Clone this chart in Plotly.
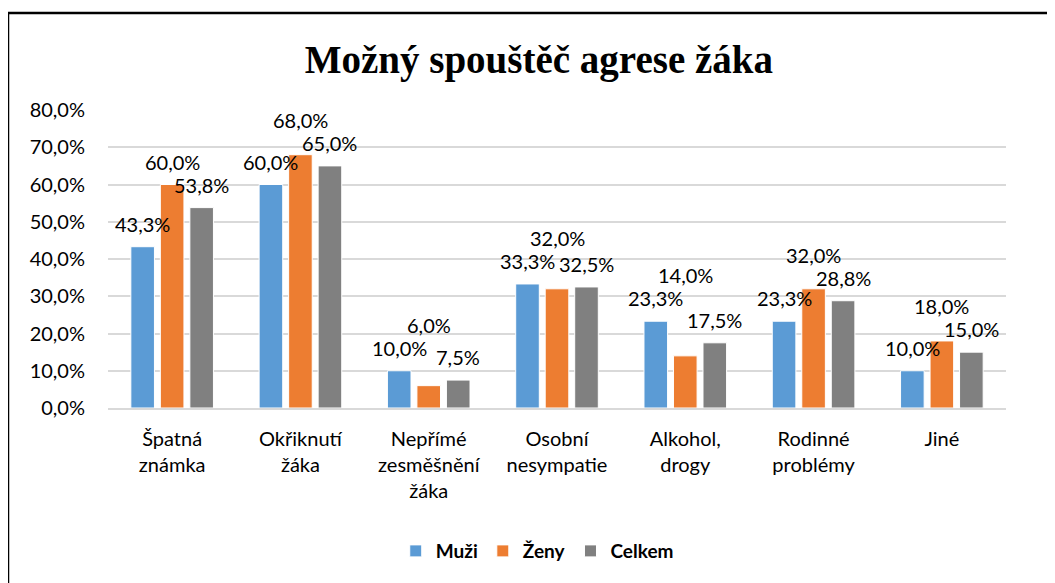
import plotly.graph_objects as go

categories = ["Špatná<br>známka", "Okřiknutí<br>žáka", "Nepřímé<br>zesměšnění<br>žáka",
              "Osobní<br>nesympatie", "Alkohol,<br>drogy", "Rodinné<br>problémy", "Jiné"]
muzi = [43.3, 60.0, 10.0, 33.3, 23.3, 23.3, 10.0]
zeny = [60.0, 68.0, 6.0, 32.0, 14.0, 32.0, 18.0]
celkem = [53.8, 65.0, 7.5, 32.5, 17.5, 28.8, 15.0]
series_names = ["Muži", "Ženy", "Celkem"]
colors = ["#5B9BD5", "#ED7D31", "#808080"]
tick_vals = [0, 10, 20, 30, 40, 50, 60, 70, 80]


def pct(v):
    return f"{v:.1f}".replace(".", ",") + "%"


# page has an 8px body margin; figure sized to fit the window
W, H = 1047, 575
ML, MR, MT, MB = 100, 49, 102, 175
FONT = "Lato"
bargap = 0.31
bargroupgap = 0.2
Y_MAX = 80

fig = go.Figure()
all_series = [muzi, zeny, celkem]
for name, vals, col in zip(series_names, all_series, colors):
    fig.add_trace(go.Bar(
        x=categories, y=vals, name=f"<b>{name}</b>",
        marker=dict(color=col, line=dict(color="white", width=1)),
    ))

# data labels: outer series sit just above their bars, the middle one is
# lifted further when it would collide with a neighbouring label
plot_w = W - ML - MR
plot_h = H - MT - MB
px_per_unit = plot_h / Y_MAX
cat_w = plot_w / len(categories)
slot = cat_w * (1 - bargap) / 3
LIFT, LABEL_H, GAP = 9, 21, 2
for ci, c in enumerate(categories):
    vals = [s[ci] for s in all_series]
    base = min(vals) * px_per_unit
    placed = {}
    for i in (0, 2, 1):
        bottom = vals[i] * px_per_unit - base + LIFT
        moved = True
        while moved:
            moved = False
            for j, pb in placed.items():
                if abs(i - j) == 1 and bottom < pb + LABEL_H and bottom + LABEL_H > pb:
                    bottom = pb + LABEL_H + GAP
                    moved = True
        placed[i] = bottom
    for i, v in enumerate(vals):
        fig.add_annotation(
            x=c, y=v, xref="x", yref="y", xshift=(i - 1) * slot,
            yshift=placed[i] - (v * px_per_unit - base),
            text=pct(v), showarrow=False, yanchor="bottom",
            font=dict(family=FONT, size=20, color="#000000"),
        )

fig.update_layout(
    width=W, height=H,
    margin=dict(l=ML, r=MR, t=MT, b=MB),
    paper_bgcolor="white", plot_bgcolor="white",
    barmode="group", bargap=bargap, bargroupgap=bargroupgap,
    title=dict(text="<b>Možný spouštěč agrese žáka</b>",
               font=dict(family="Liberation Serif", size=39, color="#000000"),
               x=0.507, xanchor="center", y=1 - 51 / H, yanchor="middle",
               xref="container", yref="container"),
    legend=dict(orientation="h", x=0.478, xanchor="center", y=-0.48, yanchor="middle",
                font=dict(family=FONT, size=19, color="#000000"),
                traceorder="normal"),
    showlegend=True,
    font=dict(family=FONT, size=19, color="#000000"),
)

fig.update_yaxes(range=[0, Y_MAX], tickmode="array", tickvals=tick_vals,
                 ticktext=[pct(t) for t in tick_vals],
                 showgrid=True, gridcolor="#D9D9D9", gridwidth=1.5,
                 zeroline=False, showline=False, ticks="", ticklabelstandoff=22,
                 tickfont=dict(family=FONT, size=20, color="#000000"))
fig.update_xaxes(showline=True, linecolor="#D9D9D9", linewidth=1.5, ticks="",
                 ticklabelstandoff=12,
                 tickfont=dict(family=FONT, size=20, color="#000000"))

# chart border (top and left edges visible)
x0 = -ML / plot_w
y_top = 1 + (MT - 5) / plot_h
y_bot = -(MB + 5) / plot_h
fig.add_shape(type="line", xref="paper", yref="paper", x0=x0, x1=1 + MR / plot_w + 0.01,
              y0=y_top, y1=y_top, line=dict(color="#000000", width=2.5))
fig.add_shape(type="line", xref="paper", yref="paper", x0=x0, x1=x0,
              y0=y_top, y1=y_bot, line=dict(color="#000000", width=2.5))

fig.write_html("out.html")
